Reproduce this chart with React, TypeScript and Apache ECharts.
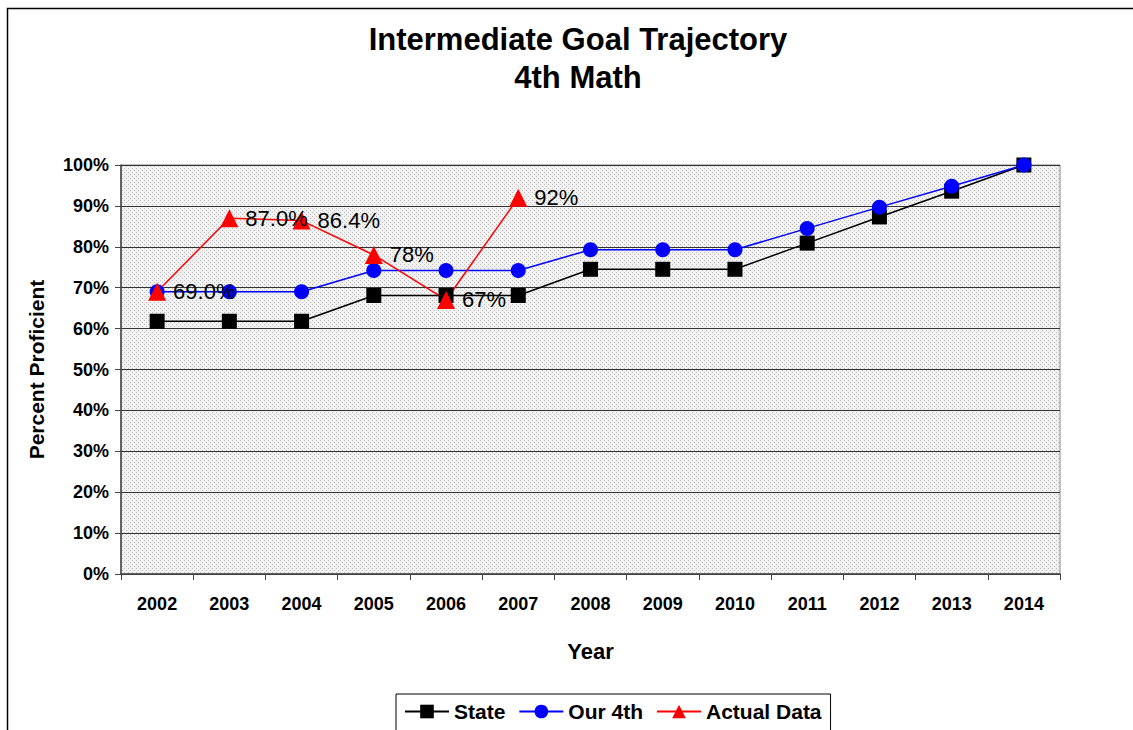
import React, { useEffect, useRef } from "react";
import * as echarts from "echarts";

const years = ["2002","2003","2004","2005","2006","2007","2008","2009","2010","2011","2012","2013","2014"];
const stateValues = [61.8, 61.8, 61.8, 68.1, 68.1, 68.1, 74.5, 74.5, 74.5, 80.9, 87.3, 93.6, 100];
const our4thValues = [69.0, 69.0, 69.0, 74.2, 74.2, 74.2, 79.3, 79.3, 79.3, 84.5, 89.7, 94.8, 100];
const actualValues: (number | null)[] = [69.0, 87.0, 86.4, 78, 67, 92, null, null, null, null, null, null, null];
const actualLabels = ["69.0%", "87.0%", "86.4%", "78%", "67%", "92%"];
const yTicks = [0, 10, 20, 30, 40, 50, 60, 70, 80, 90, 100];

function makePattern(): HTMLCanvasElement {
  const c = document.createElement("canvas");
  c.width = 4;
  c.height = 4;
  const ctx = c.getContext("2d")!;
  ctx.fillStyle = "#f2f2f2";
  ctx.fillRect(0, 0, 4, 4);
  ctx.fillStyle = "#bdbdbd";
  ctx.fillRect(0, 0, 1, 1);
  ctx.fillRect(2, 2, 1, 1);
  return c;
}

export default function App() {
  const ref = useRef<HTMLDivElement>(null);
  useEffect(() => {
    if (!ref.current) return;
    const chart = echarts.init(ref.current, null, { renderer: "svg" });
    const font = "Arial, 'Liberation Sans', sans-serif";
    chart.setOption({
      animation: false,
      backgroundColor: "#ffffff",
      title: {
        text: "Intermediate Goal Trajectory\n4th Math",
        left: 573,
        textAlign: "center",
        top: 15,
        textStyle: { fontFamily: font, fontSize: 31, fontWeight: "bold", color: "#000", lineHeight: 38 },
      },
      graphic: [
        {
          type: "rect",
          shape: { x: 7.5, y: 8.5, width: 1140, height: 740 },
          style: { fill: "none", stroke: "#000", lineWidth: 1.5 },
          z: 100,
        },
      ],
      legend: {
        top: 694,
        left: 396,
        itemGap: 13,
        itemWidth: 44,
        itemHeight: 17,
        padding: [7, 9, 12, 8],
        borderColor: "#000",
        borderWidth: 1,
        textStyle: { fontFamily: font, fontSize: 21, fontWeight: "bold", color: "#000" },
        data: ["State", "Our 4th", "Actual Data"],
      },
      grid: {
        left: 121,
        top: 165,
        width: 939,
        height: 409,
        show: true,
        backgroundColor: { image: makePattern(), repeat: "repeat" } as any,
        borderColor: "#888",
        borderWidth: 1,
      },
      xAxis: {
        type: "category",
        data: years,
        boundaryGap: true,
        name: "Year",
        nameLocation: "middle",
        nameGap: 66,
        nameTextStyle: { fontFamily: font, fontSize: 22, fontWeight: "bold", color: "#000" },
        axisLine: { lineStyle: { color: "#444", width: 1.5 } },
        axisTick: { show: true, length: 6, lineStyle: { color: "#444" }, alignWithLabel: false },
        axisLabel: { fontFamily: font, fontSize: 18, fontWeight: "bold", color: "#000", margin: 21 },
      },
      yAxis: {
        type: "value",
        min: 0,
        max: 100,
        interval: 10,
        name: "Percent Proficient",
        nameLocation: "middle",
        nameGap: 74,
        nameTextStyle: { fontFamily: font, fontSize: 21, fontWeight: "bold", color: "#000" },
        axisLine: { show: true, lineStyle: { color: "#444", width: 1.5 } },
        axisTick: { show: true, length: 6, lineStyle: { color: "#444" } },
        axisLabel: {
          fontFamily: font,
          fontSize: 18,
          fontWeight: "bold",
          color: "#000",
          margin: 12,
          formatter: (v: number) => (yTicks.includes(v) ? v + "%" : ""),
        },
        splitLine: { show: true, lineStyle: { color: "#333", width: 1 } },
      },
      series: [
        {
          name: "State",
          type: "line",
          data: stateValues,
          symbol: "rect",
          symbolSize: 15,
          itemStyle: { color: "#000" },
          lineStyle: { color: "#000", width: 1.5 },
        },
        {
          name: "Our 4th",
          type: "line",
          data: our4thValues,
          symbol: "circle",
          symbolSize: 15,
          itemStyle: { color: "#0000ff" },
          lineStyle: { color: "#0000ff", width: 1.5 },
        },
        {
          name: "Actual Data",
          type: "line",
          data: actualValues,
          symbol: "triangle",
          symbolSize: 18,
          itemStyle: { color: "#ff0000" },
          lineStyle: { color: "#ff0000", width: 1.5 },
          label: {
            show: true,
            position: "right",
            distance: 7,
            fontFamily: font,
            fontSize: 22,
            color: "#000",
            formatter: (p: any) => actualLabels[p.dataIndex] ?? "",
          },
        },
      ],
    });
    return () => chart.dispose();
  }, []);
  return <div ref={ref} style={{ position: "absolute", left: 0, top: 0, width: 1133, height: 730 }} />;
}
